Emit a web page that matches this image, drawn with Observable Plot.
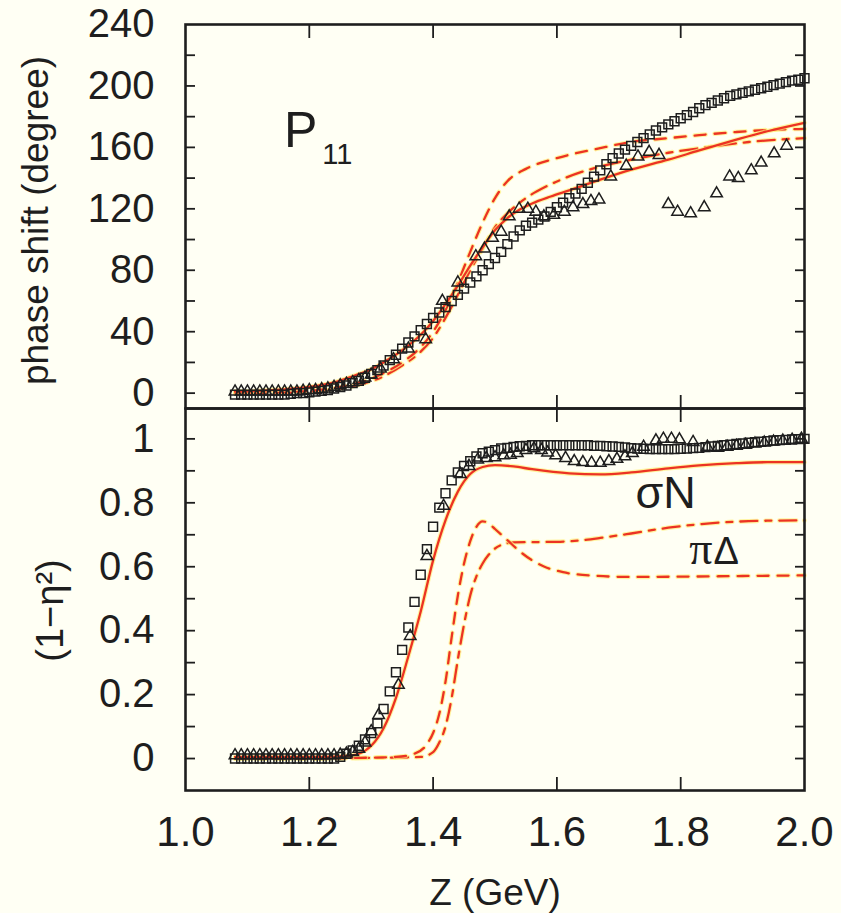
<!DOCTYPE html>
<html>
<head>
<meta charset="utf-8">
<script src="https://cdn.jsdelivr.net/npm/d3@7"></script>
<script src="https://cdn.jsdelivr.net/npm/@observablehq/plot@0.6"></script>
<style>
  html, body { margin: 0; padding: 0; background: #fffff4; }
  #chart { width: 841px; height: 913px; overflow: hidden; }
  #chart svg { display: block; }
</style>
</head>
<body>
<div id="chart"></div>
<script>
// ---------------- data ----------------
// energy grid of the partial-wave analysis points (squares)
const zGrid = [1.08,1.09,1.10,1.11,1.12,1.13,1.14,1.15,1.16,1.17,1.18,1.19,
  1.20,1.21,1.22,1.23,1.24,1.25,1.26,1.27,1.28,1.29,
  1.30,1.31,1.32,1.33,1.34,1.35,1.36,1.37,1.38,1.39,
  1.40,1.41,1.42,1.43,1.44,1.45,1.46,1.47,1.48,1.49,
  1.50,1.51,1.52,1.53,1.54,1.55,1.56,1.57,1.58,1.59,
  1.60,1.61,1.62,1.63,1.64,1.65,1.66,1.67,1.68,1.69,
  1.70,1.71,1.72,1.73,1.74,1.75,1.76,1.77,1.78,1.79,
  1.80,1.81,1.82,1.83,1.84,1.85,1.86,1.87,1.88,1.89,
  1.90,1.91,1.92,1.93,1.94,1.95,1.96,1.97,1.98,1.99,2.00];

// P11 phase shift, squares (degree)
const phaseSquares = [-1,-1,-1,-1,-1,-1,-1,-1,-1,-0.5,0,0,
  0.5,1,1.5,2,3,4,5,6.5,8,10,
  12.5,15,18,21.5,25,29,33,37,41,45,
  49,52.5,56,60,64,68,72,76,80,84,
  88,92,97,102,106,109,111,113,115,118,
  121,124,127,130,133,137,141,145,149,153,
  156,158.5,161,163.5,166,168.5,171,173,175,177,
  179,181,183,185.5,187.5,189,190.5,192,193.5,194.5,
  195.5,196.5,197.5,198.5,199.5,200.5,201.5,202.5,203.5,204,205];

// inelasticity (1 - eta^2), squares
const inelSquares = [0,0,0,0,0,0,0,0,0,0,0,0,
  0,0,0,0,0,0.005,0.015,0.025,0.04,0.06,
  0.08,0.11,0.155,0.21,0.27,0.34,0.41,0.49,0.575,0.655,
  0.725,0.785,0.83,0.87,0.895,0.915,0.93,0.945,0.955,0.96,
  0.965,0.97,0.972,0.975,0.977,0.978,0.98,0.98,0.98,0.98,
  0.98,0.98,0.98,0.98,0.98,0.98,0.978,0.978,0.977,0.976,
  0.975,0.973,0.971,0.97,0.969,0.968,0.968,0.968,0.968,0.968,
  0.969,0.97,0.971,0.972,0.974,0.976,0.978,0.98,0.982,0.984,
  0.986,0.988,0.99,0.991,0.993,0.995,0.996,0.997,0.998,0.999,1.0];

// P11 phase shift, triangles
const zTriPhase = [1.08,1.09,1.10,1.11,1.12,1.13,1.14,1.15,1.16,1.17,1.18,1.19,
  1.20,1.21,1.22,1.23,1.24,1.25,1.26,1.27,1.28,1.29,1.30,1.315,1.336,1.36,1.388,
  1.415,1.44,1.469,1.483,1.496,1.51,1.523,1.539,1.553,1.566,1.579,1.595,1.612,
  1.626,1.642,1.655,1.668,1.687,1.712,1.731,1.749,1.765,
  1.78,1.795,1.816,1.838,1.858,1.879,1.893,1.914,1.93,1.951,1.971];
const phaseTriangles = [1,1,1,1,1,1,1,1,1,1,1,1.5,
  2,2,2.5,3,4,5,6,7,8.5,10,12,16,22,29,35,
  60,72,89,94,101,105,115,120,120,118,115,116,118,
  121,123,125,126,141,148,154,157,155,
  123,118,117,121,130,141,140,145,150,156,161];

// inelasticity, triangles
const zTriInel = [1.08,1.09,1.10,1.11,1.12,1.13,1.14,1.15,1.16,1.17,1.18,1.19,
  1.20,1.21,1.22,1.23,1.24,1.25,1.26,1.27,1.28,1.29,1.30,1.312,1.344,1.363,1.39,
  1.417,1.444,1.458,1.472,1.486,1.50,1.514,1.525,1.536,1.55,1.563,1.575,1.585,
  1.598,1.614,1.628,1.642,1.656,1.67,1.684,1.697,1.71,1.722,1.74,1.76,1.772,
  1.785,1.798,1.82,1.843,1.86,1.875,1.89,1.905,1.92,1.935,1.95,1.965,1.98,1.995];
const inelTriangles = [0.01,0.01,0.01,0.01,0.01,0.01,0.01,0.01,0.01,0.01,0.01,0.01,
  0.01,0.01,0.01,0.01,0.01,0.012,0.015,0.02,0.03,0.05,0.085,0.136,0.23,0.383,0.633,
  0.79,0.89,0.915,0.935,0.94,0.942,0.948,0.95,0.955,0.965,0.97,0.965,0.957,
  0.948,0.94,0.93,0.927,0.925,0.925,0.93,0.937,0.945,0.955,0.975,0.995,1.0,
  1.0,0.998,0.99,0.975,0.972,0.975,0.978,0.981,0.985,0.988,0.991,0.994,0.997,1.0];

// model curves: phase shift
const zPhaseSigmaN = [1.08,1.12,1.16,1.20,1.24,1.27,1.30,1.33,1.36,1.38,1.40,1.42,1.44,1.46,1.48,1.50,1.52,1.54,1.56,1.59,1.62,1.67,1.72,1.78,1.83,1.89,1.94,2.00];
const phaseSigmaN  = [1,1.5,2.5,4,7,11,15.5,22.5,31,38,47,58,70,83,95,106,114,119.5,123.5,128,132,139,145.5,152,158,165,170.5,176];
const zPhaseDashA = [1.08,1.14,1.20,1.25,1.29,1.32,1.35,1.38,1.40,1.42,1.44,1.46,1.48,1.50,1.52,1.55,1.60,1.67,1.72,1.78,1.83,1.89,1.95,2.00];
const phaseDashA  = [0,0.5,1.5,4,8,13,20,30,40,54,72,92,111,127,138,146,153,159.5,163.5,166,168,170,171.5,172];
const zPhaseDashB = [1.08,1.14,1.20,1.25,1.29,1.32,1.35,1.38,1.40,1.42,1.44,1.46,1.48,1.50,1.52,1.55,1.58,1.61,1.64,1.67,1.72,1.78,1.85,1.91,2.00];
const phaseDashB  = [0,0,1,3,6.5,11,18,27,36,49,64,80,94,108,117,127,134,139.5,144,147.5,152,156.5,160.5,163.5,166];

// model curves: inelasticity
const zInelSigmaN = [1.08,1.15,1.22,1.26,1.28,1.30,1.32,1.34,1.36,1.38,1.40,1.42,1.44,1.46,1.48,1.50,1.53,1.56,1.62,1.67,1.72,1.78,1.83,1.89,1.94,2.00];
const inelSigmaN  = [0.005,0.005,0.005,0.008,0.015,0.04,0.095,0.19,0.32,0.46,0.62,0.745,0.835,0.89,0.912,0.918,0.914,0.905,0.892,0.889,0.895,0.908,0.917,0.924,0.927,0.927];
const zInelDashA = [1.08,1.20,1.28,1.34,1.37,1.39,1.40,1.41,1.42,1.43,1.44,1.45,1.46,1.47,1.48,1.49,1.50,1.52,1.54,1.56,1.58,1.61,1.66,1.72,1.80,1.90,2.00];
const inelDashA  = [0,0,0.002,0.005,0.015,0.045,0.08,0.14,0.24,0.38,0.51,0.61,0.68,0.725,0.742,0.735,0.718,0.683,0.648,0.62,0.6,0.583,0.572,0.568,0.569,0.571,0.573];
const zInelDashB = [1.08,1.20,1.30,1.38,1.40,1.41,1.42,1.43,1.44,1.45,1.46,1.47,1.48,1.49,1.50,1.51,1.53,1.56,1.60,1.64,1.67,1.72,1.78,1.83,1.89,1.94,2.00];
const inelDashB  = [0,0,0.002,0.005,0.02,0.05,0.1,0.19,0.31,0.42,0.51,0.57,0.61,0.638,0.657,0.668,0.676,0.677,0.678,0.683,0.69,0.704,0.722,0.733,0.741,0.744,0.745];

// ticks
const xLabelTicks = [1.0,1.2,1.4,1.6,1.8,2.0];
const xInnerTicks = [1.2,1.4,1.6,1.8];
const phaseLabelTicks = [0,40,80,120,160,200,240];
const phaseMinorTicks = [0,20,40,60,80,100,120,140,160,180,200,220];
const inelLabelTicks = [0,0.2,0.4,0.6,0.8,1];
const inelMinorTicks = [0,0.1,0.2,0.3,0.4,0.5,0.6,0.7,0.8,0.9,1.0];

// ---------------- styling ----------------
const FONT = "'Liberation Sans', Arial, Helvetica, sans-serif";
const INK = "#1e1e1e";
const RED = "#ec3323";
const HALO = "#fff07a";
const DASH_A = "11,9";
const DASH_B = "17,8,6,8";

const pairs = (xs, ys) => xs.map((x, i) => ({z: x, v: ys[i]}));

function fitLine(xs, ys, dash) {
  const data = pairs(xs, ys);
  return [
    Plot.line(data, {x: "z", y: "v", stroke: HALO, strokeWidth: 4.5, strokeOpacity: 0.7,
      strokeDasharray: dash, curve: "monotone-x"}),
    Plot.line(data, {x: "z", y: "v", stroke: RED, strokeWidth: 2.3,
      strokeDasharray: dash, curve: "monotone-x"})
  ];
}

function points(xs, ys, symbol, r) {
  return Plot.dot(pairs(xs, ys), {x: "z", y: "v", symbol, r, stroke: INK, strokeWidth: 1.5, fill: "none"});
}

function innerTicks(yMinor) {
  const tk = {tickSize: -10, tickFormat: () => "", label: null, stroke: INK, strokeWidth: 1.8};
  return [
    Plot.axisY(yMinor, {anchor: "left", ...tk}),
    Plot.axisY(yMinor, {anchor: "right", ...tk}),
    Plot.axisX(xInnerTicks, {anchor: "top", ...tk, tickSize: -13}),
    Plot.axisX(xInnerTicks, {anchor: "bottom", ...tk, tickSize: -13})
  ];
}

const common = {
  width: 841,
  marginLeft: 185,
  marginRight: 37,
  x: {domain: [1.0, 2.0]},
  style: {background: "transparent", fontFamily: FONT, color: INK, overflow: "visible"}
};

// ---------------- upper panel: phase shift ----------------
const upper = Plot.plot({
  ...common,
  height: 408,
  marginTop: 24,
  marginBottom: 0,
  y: {domain: [-10, 240]},
  marks: [
    ...fitLine(zPhaseDashB, phaseDashB, DASH_B),
    ...fitLine(zPhaseDashA, phaseDashA, DASH_A),
    ...fitLine(zPhaseSigmaN, phaseSigmaN, null),
    points(zGrid, phaseSquares, "square", 5),
    points(zTriPhase, phaseTriangles, "triangle", 4.3),
    ...innerTicks(phaseMinorTicks),
    Plot.axisY(phaseLabelTicks, {anchor: "left", tickSize: 0, tickPadding: 31, fontSize: 40,
      tickFormat: d => String(d), label: null}),
    Plot.frame({stroke: INK, strokeWidth: 2.6}),
    Plot.text(["phase shift (degree)"], {frameAnchor: "left", textAnchor: "middle", dx: -149, dy: 4,
      rotate: -90, fontSize: 37, fill: INK}),
    Plot.text(["P"], {x: 1.159, y: 160, textAnchor: "start", lineAnchor: "bottom", fontSize: 50, fill: INK}),
    Plot.text(["11"], {x: 1.221, y: 149, textAnchor: "start", lineAnchor: "bottom", fontSize: 29, fill: INK})
  ]
});

// ---------------- lower panel: inelasticity ----------------
const lower = Plot.plot({
  ...common,
  height: 505,
  marginTop: 0,
  marginBottom: 123,
  y: {domain: [-0.1, 1.095]},
  marks: [
    ...fitLine(zInelDashB, inelDashB, DASH_B),
    ...fitLine(zInelDashA, inelDashA, DASH_A),
    ...fitLine(zInelSigmaN, inelSigmaN, null),
    points(zGrid, inelSquares, "square", 5),
    points(zTriInel, inelTriangles, "triangle", 4.3),
    ...innerTicks(inelMinorTicks),
    Plot.axisY(inelLabelTicks, {anchor: "left", tickSize: 0, tickPadding: 31, fontSize: 40,
      tickFormat: d => String(d), label: null}),
    Plot.axisX(xLabelTicks, {anchor: "bottom", tickSize: 0, tickPadding: 26, fontSize: 42,
      tickFormat: d => d.toFixed(1), label: null}),
    Plot.frame({stroke: INK, strokeWidth: 2.6}),
    Plot.text(["(1−η²)"], {frameAnchor: "left", textAnchor: "middle", dx: -135, dy: 11,
      rotate: -90, fontSize: 38, fill: INK}),
    Plot.text(["Z (GeV)"], {frameAnchor: "bottom", dy: 114, lineAnchor: "bottom", fontSize: 37, fill: INK}),
    Plot.text(["σN"], {x: 1.727, y: 0.785, textAnchor: "start", lineAnchor: "bottom", fontSize: 45, fill: INK}),
    Plot.text(["π"], {x: 1.814, y: 0.61, textAnchor: "start", lineAnchor: "bottom", fontSize: 46,
      fontFamily: "'Liberation Serif', 'DejaVu Serif', serif", fill: INK}),
    Plot.text(["Δ"], {x: 1.853, y: 0.61, textAnchor: "start", lineAnchor: "bottom", fontSize: 38, fill: INK})
  ]
});

const chart = document.getElementById("chart");
chart.append(upper, lower);
</script>
</body>
</html>
